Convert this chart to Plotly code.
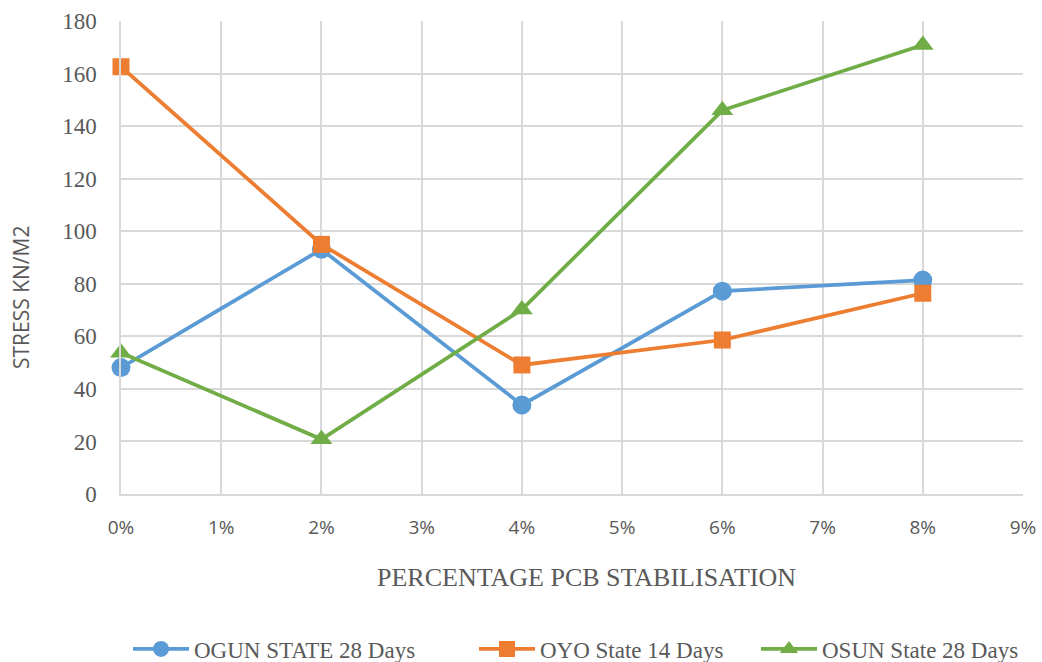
import plotly.graph_objects as go

# PCB stabilisation levels (fraction) and measured stress per sample
pcb_pct = [0.00, 0.02, 0.04, 0.06, 0.08]
ogun_28 = [48.1, 93.1, 33.9, 77.2, 81.4]
oyo_14 = [162.6, 95.0, 49.1, 58.6, 76.4]
osun_28 = [53.8, 20.8, 70.2, 146.0, 170.9]

W, H = 1042, 662
ML, MR, MT, MB = 121, 19, 21, 168
text_grey = "#595959"
grid_grey = "#D9D9D9"

# name, values, colour, marker, marker size, legend id, legend left edge (px)
series = [
    ("OGUN STATE 28 Days", ogun_28, "#5B9BD5", "circle", 19, "legend", 128),
    ("OYO State 14 Days", oyo_14, "#ED7D31", "square", 17, "legend2", 474),
    ("OSUN State 28 Days", osun_28, "#70AD47", "triangle-up", 19, "legend3", 756),
]

fig = go.Figure()
legend_cfg = {}
for name, vals, color, symbol, size, leg, left in series:
    fig.add_trace(go.Scatter(
        x=pcb_pct, y=vals, name=name, mode="lines+markers",
        line=dict(color=color, width=3.75),
        marker=dict(symbol=symbol, size=size, color=color),
        cliponaxis=False,
        legend=leg,
    ))
    legend_cfg[leg] = dict(
        xref="container", yref="container",
        x=left / W, xanchor="left", y=1 - 649 / H, yanchor="middle",
        font=dict(family="Liberation Serif", size=23, color=text_grey),
        itemwidth=56, bgcolor="rgba(0,0,0,0)", borderwidth=0,
    )


def to_paper(px_x, px_y):
    """Container pixel position -> paper coordinates of the plot area."""
    return ((px_x - ML) / (W - ML - MR), (H - MB - px_y) / (H - MT - MB))


xt_x, xt_y = to_paper(586, 577)
yt_x, yt_y = to_paper(21, 298)

fig.update_layout(
    width=W, height=H,
    margin=dict(l=ML, r=MR, t=MT, b=MB, autoexpand=False),
    paper_bgcolor="white", plot_bgcolor="white",
    showlegend=True,
    xaxis=dict(
        range=[0, 0.09], dtick=0.01, tick0=0, tickformat=".0%",
        showgrid=True, gridcolor=grid_grey, gridwidth=1.5,
        showline=True, linecolor=grid_grey, linewidth=1.5,
        zeroline=False, ticks="", automargin=False,
        ticklabelstandoff=15,
        tickfont=dict(family="Open Sans", size=19, color=text_grey),
    ),
    yaxis=dict(
        range=[0, 180], dtick=20, tick0=0,
        showgrid=True, gridcolor=grid_grey, gridwidth=1.5,
        showline=True, linecolor=grid_grey, linewidth=1.5,
        zeroline=False, ticks="", automargin=False,
        ticklabelstandoff=18,
        tickfont=dict(family="Liberation Serif", size=23, color=text_grey),
    ),
    annotations=[
        dict(text="PERCENTAGE PCB STABILISATION", xref="paper", yref="paper",
             x=xt_x, y=xt_y, xanchor="center", yanchor="middle",
             showarrow=False,
             font=dict(family="Liberation Serif", size=26, color=text_grey)),
        dict(text="STRESS KN/M2", xref="paper", yref="paper",
             x=yt_x, y=yt_y, xanchor="center", yanchor="middle",
             textangle=-90, showarrow=False,
             font=dict(family="Open Sans", size=21, color=text_grey)),
    ],
    **legend_cfg,
)

fig.write_html("out.html")
